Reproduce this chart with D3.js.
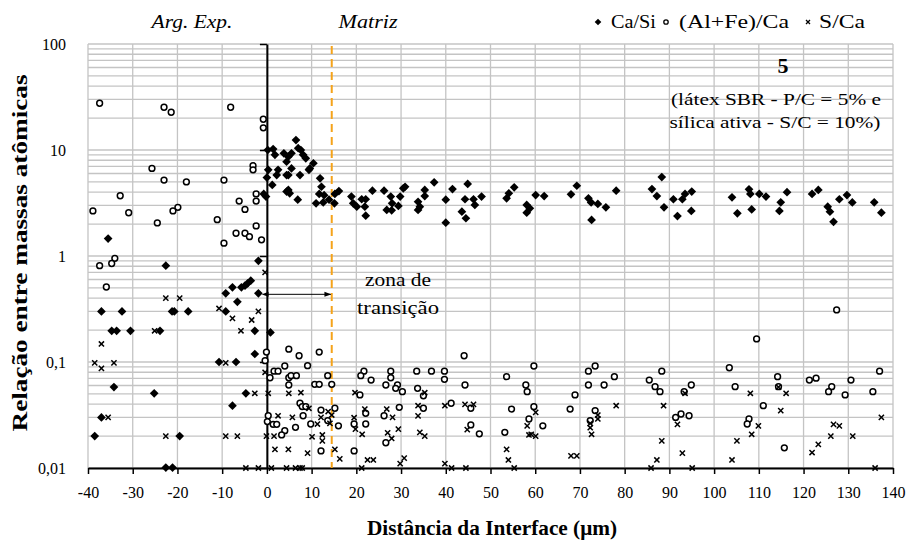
<!DOCTYPE html>
<html>
<head>
<meta charset="utf-8">
<script src="https://cdn.jsdelivr.net/npm/d3@7"></script>
<style>
  body { margin: 0; background: #fff; }
  svg text { font-family: "Liberation Serif", "DejaVu Serif", serif; fill: #000; }
</style>
</head>
<body>
<div id="chart"></div>
<script>
// Ca/Si, (Al+Fe)/Ca and S/Ca atomic ratios vs. distance from the aggregate interface
const xTicks = [-40, -30, -20, -10, 0, 10, 20, 30, 40, 50, 60, 70, 80, 90, 100, 110, 120, 130, 140];
const yTicks = [0.01, 0.1, 1, 10, 100];
const yTickLabels = ["0,01", "0,1", "1", "10", "100"];

const transitionEnd = 14.5;   // end of the interfacial transition zone (µm)
const arrowLevel = 0.435;

const caSi = [
  [-35.5, 1.46], [-22.6, 0.81], [-1.9, 0.90], [-3.6, 0.585], [-4.3, 0.553], [-4.9, 0.525],
  [-5.7, 0.507], [-7.7, 0.507], [-9.2, 0.445], [-1.9, 0.445], [-6.6, 0.37], [-37.0, 0.30],
  [-32.4, 0.30], [-21.2, 0.30], [-20.7, 0.30], [-17.6, 0.30], [-9.2, 0.30], [-34.7, 0.197],
  [-33.6, 0.197], [-30.5, 0.197], [-23.9, 0.197], [-2.7, 0.197], [0.8, 0.19], [-2.7, 0.119],
  [-10.7, 0.1], [-6.9, 0.1], [-34.2, 0.058], [-25.2, 0.0507], [-4.7, 0.0507], [-7.7, 0.0387],
  [-37.0, 0.030], [-38.5, 0.020], [-19.5, 0.020], [-22.6, 0.0101], [-21.1, 0.0101],
  [0.2, 10], [1.4, 10.2], [1.8, 9.0], [3.8, 9.3], [4.4, 7.75], [0.3, 6.5], [2.5, 6.5],
  [2.2, 5.8], [0, 5.5], [4.4, 5.8], [1.2, 4.68], [-0.7, 3.85], [-0.2, 3.64], [4.4, 4.05],
  [6.5, 12.4], [7.0, 10.4], [7.6, 10], [5.5, 9.3], [4.8, 8.65], [8.1, 9.0], [8.7, 8.35],
  [10.4, 7.5], [9.6, 6.7], [5.5, 6.7], [4.8, 5.8], [7.4, 5.8], [9.4, 6.5], [11.9, 5.4],
  [12.2, 4.5], [4.8, 4.2], [5.1, 3.9], [6.9, 3.4], [11.7, 3.85], [12.8, 3.75], [11.0, 3.14],
  [12.6, 3.2], [13.9, 3.4], [15.1, 3.14], [15.2, 3.85], [16.1, 4.1], [18.9, 3.64], [19.3, 3.14],
  [20.1, 2.92], [21.9, 2.92], [22.1, 3.43], [21.2, 3.43], [22.1, 2.4], [23.6, 4.13], [26.2, 4.13],
  [27.7, 3.64], [28.0, 3.14], [26.8, 2.72], [27.9, 2.7], [29.4, 2.97], [29.8, 3.64], [30.5, 4.35],
  [30.9, 4.5], [33.8, 3.25], [33.8, 2.72], [34.2, 2.92], [35.3, 3.68], [35.3, 4.2], [37.4, 4.95],
  [40.0, 3.4], [40.0, 2.06], [41.5, 4.28], [44.3, 3.43], [44.9, 4.78], [43.6, 2.62], [44.5, 2.27],
  [46.2, 3.43], [46.5, 3.03], [48.0, 3.64],
  [53.6, 3.5], [54.1, 3.9], [55.3, 4.45], [58.1, 3.03], [58.1, 2.56], [58.8, 2.82], [60.1, 3.76],
  [62.0, 3.68], [68.0, 3.82], [69.3, 4.6], [71.9, 3.5], [72.5, 3.2], [74.0, 3.1], [72.6, 2.19],
  [75.8, 2.88], [78.1, 4.13], [86.1, 4.28], [87.2, 3.68], [88.3, 5.56], [88.8, 2.88], [90.9, 3.43],
  [91.8, 2.38], [92.9, 3.43], [93.5, 3.85], [95.0, 4.05], [94.9, 2.66],
  [104.0, 3.58], [105.2, 2.53], [107.8, 4.26], [108.1, 3.85], [108.4, 2.75], [110.1, 3.85],
  [111.6, 3.64], [114.6, 2.66], [114.9, 3.21], [116.3, 4.0], [121.9, 3.85], [123.3, 4.2],
  [125.4, 2.92], [125.9, 2.62], [126.7, 2.1], [128.0, 3.43], [129.7, 3.76], [130.9, 3.2],
  [135.8, 3.21], [137.4, 2.56]
];

const alFeCa = [
  [-37.4, 27.6], [-23.0, 25.3], [-21.4, 22.7], [-8.1, 25.3], [-0.8, 19.5], [-0.8, 16.2],
  [-25.7, 6.7], [-3.1, 7.1], [-3.1, 6.5], [-23.0, 5.2], [-18.0, 5.0], [-9.6, 5.2], [-32.8, 3.7],
  [-2.4, 3.85], [-2.4, 3.3], [-6.2, 3.3], [-4.9, 2.75], [-38.9, 2.66], [-30.9, 2.56], [-21.0, 2.66],
  [-19.9, 2.88], [-24.5, 2.05], [-11.1, 2.2], [-2.4, 1.92], [-6.9, 1.64], [-4.9, 1.64], [-3.9, 1.52],
  [-1.2, 1.42], [-9.6, 1.32], [-34.0, 0.95], [-34.7, 0.85], [-37.4, 0.81], [-35.9, 0.51],
  [-0.1, 0.124], [-0.4, 0.103], [4.9, 0.132], [4.0, 0.0917], [1.6, 0.082], [2.5, 0.082],
  [0.7, 0.071], [4.9, 0.071], [4.9, 0.0607], [0.3, 0.0311], [0.1, 0.0274], [1.4, 0.0258],
  [2.2, 0.0258], [4.0, 0.0225], [3.3, 0.0205],
  [7.2, 0.1146], [11.7, 0.124], [9.1, 0.0923], [5.4, 0.0743], [6.6, 0.0743], [10.7, 0.0616],
  [11.7, 0.0616], [13.6, 0.0743], [14.5, 0.0616], [7.4, 0.0408], [7.9, 0.038], [8.7, 0.038],
  [8.1, 0.0311], [12.1, 0.0352], [15.2, 0.0366], [13.6, 0.028], [9.8, 0.026], [6.4, 0.0242],
  [16.0, 0.025], [12.1, 0.0145], [19.5, 0.0145], [21.7, 0.082], [21.0, 0.0743], [23.3, 0.0676],
  [20.8, 0.0489], [27.7, 0.082], [27.7, 0.071], [26.6, 0.0607], [29.2, 0.0607], [28.8, 0.0565],
  [30.3, 0.0525], [22.1, 0.0328], [22.1, 0.026], [19.5, 0.026], [26.2, 0.0311], [26.6, 0.0173],
  [29.6, 0.0374], [33.5, 0.082], [36.8, 0.082], [39.7, 0.082], [39.7, 0.0687], [33.7, 0.0565],
  [35.0, 0.048], [35.0, 0.0366], [41.2, 0.0408], [44.1, 0.1146], [44.3, 0.0607], [45.6, 0.0366],
  [45.6, 0.0255], [47.5, 0.021],
  [59.7, 0.0917], [53.6, 0.0727], [57.9, 0.0607], [58.2, 0.0525], [54.7, 0.036], [59.7, 0.0379],
  [58.6, 0.029], [61.7, 0.025], [53.2, 0.0217], [71.9, 0.082], [73.4, 0.0917], [71.9, 0.0607],
  [75.4, 0.0607], [77.7, 0.0727], [68.9, 0.0489], [67.8, 0.036], [73.4, 0.0348], [72.3, 0.028],
  [85.5, 0.0676], [86.8, 0.0585], [87.9, 0.0525], [88.3, 0.082], [93.3, 0.0525], [94.9, 0.0607],
  [91.4, 0.030], [92.6, 0.0323], [94.4, 0.0311],
  [109.5, 0.165], [127.4, 0.31], [103.4, 0.0883], [104.7, 0.0585], [114.2, 0.0727], [114.4, 0.0585],
  [111.0, 0.0387], [107.8, 0.029], [107.4, 0.026], [115.7, 0.0155], [121.3, 0.0676], [122.8, 0.0703],
  [126.3, 0.0585], [125.6, 0.0525], [129.3, 0.0489], [130.6, 0.0676], [135.5, 0.0525], [137.0, 0.082]
];

const sCa = [
  [-0.4, 0.70], [-22.6, 0.40], [-19.5, 0.40], [-10.7, 0.32], [-7.7, 0.258], [-1.9, 0.30],
  [-3.4, 0.249], [-5.8, 0.197], [-25.1, 0.197], [-37.0, 0.148], [-38.5, 0.098], [-37.0, 0.087],
  [-34.2, 0.098], [-9.2, 0.098], [-2.7, 0.0507], [0.3, 0.0507], [4.9, 0.0507], [-35.5, 0.030],
  [2.5, 0.0311], [-0.1, 0.020], [1.6, 0.020], [-22.6, 0.020], [-9.2, 0.020], [-6.6, 0.020],
  [1.8, 0.015], [4.8, 0.015], [-4.7, 0.01], [-1.9, 0.01], [1.0, 0.01], [4.4, 0.01], [-0.4, 0.08],
  [7.6, 0.0513], [9.4, 0.0366], [5.7, 0.030], [10.1, 0.0197], [12.4, 0.0205], [12.4, 0.018],
  [12.1, 0.030], [11.3, 0.026], [13.7, 0.0341], [14.5, 0.0316], [14.1, 0.0264], [9.1, 0.0138],
  [15.2, 0.015], [16.3, 0.0122], [6.4, 0.01], [7.4, 0.01], [7.9, 0.01], [19.7, 0.0513],
  [19.5, 0.0298], [19.8, 0.0233], [21.3, 0.0208], [21.9, 0.036], [21.2, 0.01], [22.5, 0.0119],
  [23.8, 0.0119], [26.8, 0.036], [28.1, 0.030], [27.0, 0.0215], [27.9, 0.019], [29.4, 0.0233],
  [29.8, 0.011], [30.7, 0.0124], [33.8, 0.0387], [33.8, 0.031], [34.2, 0.0217], [35.3, 0.020],
  [35.3, 0.0513], [39.8, 0.0387], [39.8, 0.011], [41.3, 0.01], [44.5, 0.01], [44.3, 0.0398],
  [46.2, 0.0398], [44.8, 0.023],
  [53.6, 0.015], [54.0, 0.0119], [55.3, 0.01], [58.2, 0.025], [60.1, 0.0335], [58.6, 0.0205],
  [59.1, 0.0208], [60.1, 0.020], [68.0, 0.013], [69.3, 0.013], [72.3, 0.0264], [72.3, 0.024],
  [72.6, 0.0208], [74.0, 0.0316], [74.0, 0.029], [78.1, 0.0387], [88.7, 0.0387], [88.3, 0.018],
  [87.2, 0.0119], [85.9, 0.01], [91.8, 0.0258], [92.9, 0.0138], [93.5, 0.0507], [95.1, 0.01],
  [108.1, 0.0507], [116.1, 0.0507], [114.9, 0.0348], [109.9, 0.025], [108.4, 0.0208],
  [105.1, 0.018], [104.0, 0.0119], [121.9, 0.014], [123.3, 0.0167], [126.1, 0.020],
  [126.7, 0.0258], [128.0, 0.025], [131.0, 0.020], [137.4, 0.030], [136.0, 0.01], [114.4, 0.058]
];

const W = 912, H = 548;
const plot = { l: 88, r: 893, t: 44, b: 468 };
const gridColor = "#c4c4c4";

const x = d3.scaleLinear().domain([-40, 140]).range([plot.l, plot.r]);
const y = d3.scaleLog().domain([0.01, 100]).range([plot.b, plot.t]);

const svg = d3.select("#chart").append("svg")
  .attr("width", W)
  .attr("height", H)
  .attr("viewBox", [0, 0, W, H]);

// stretched text helper: the labels are set to a fixed width
function label(g, px, py, str, size, width, extra = {}) {
  const t = g.append("text")
    .attr("x", px).attr("y", py)
    .attr("text-anchor", extra.anchor || "middle")
    .attr("font-size", size)
    .text(str);
  if (width) t.attr("textLength", width).attr("lengthAdjust", "spacingAndGlyphs");
  if (extra.italic) t.attr("font-style", "italic");
  if (extra.bold) t.attr("font-weight", "bold");
  return t;
}

// minor log gridlines: 1..9 in every decade, plus the top line
const yGrid = [];
for (let e = -2; e < 2; e++) {
  for (let k = 1; k <= 9; k++) yGrid.push(k * Math.pow(10, e));
}
yGrid.push(100);

const gGrid = svg.append("g");
gGrid.selectAll("line.h").data(yGrid).join("line")
  .attr("class", "h")
  .attr("x1", plot.l).attr("x2", plot.r)
  .attr("y1", d => y(d)).attr("y2", d => y(d))
  .attr("stroke", gridColor).attr("stroke-width", 1.3);

gGrid.selectAll("line.v").data(xTicks).join("line")
  .attr("class", "v")
  .attr("x1", d => x(d)).attr("x2", d => x(d))
  .attr("y1", plot.t).attr("y2", plot.b)
  .attr("stroke", gridColor).attr("stroke-width", 1.3);

// x axis along the 0,01 line
const xAxis = d3.axisBottom(x).tickValues(xTicks).tickSize(6).tickSizeOuter(0).tickFormat(d3.format("d"));
const gx = svg.append("g").attr("transform", `translate(0,${plot.b})`).call(xAxis);
gx.attr("font-family", null);
gx.select(".domain").attr("stroke", "#000").attr("stroke-width", 2);
gx.selectAll(".tick line").attr("stroke", "#000").attr("stroke-width", 1.5);
gx.selectAll(".tick text")
  .attr("y", 19)
  .attr("font-size", 16)
  .text(d => d < 0 ? "-" + Math.abs(d) : d);

// y axis crosses at x = 0, labels sit at the left edge
const yAxis = d3.axisLeft(y).tickValues(yTicks).tickSize(7).tickSizeOuter(0).tickFormat("");
const gy = svg.append("g").attr("transform", `translate(${x(0)},0)`).call(yAxis);
gy.select(".domain").attr("stroke", "#000").attr("stroke-width", 2);
gy.selectAll(".tick line").attr("stroke", "#000").attr("stroke-width", 1.5);

svg.append("g").selectAll("text").data(yTicks).join("text")
  .attr("x", 66)
  .attr("y", d => y(d))
  .attr("dy", "0.35em")
  .attr("text-anchor", "end")
  .attr("font-size", 16)
  .text((d, i) => yTickLabels[i]);

// boundary of the transition zone
svg.append("line")
  .attr("x1", x(transitionEnd)).attr("x2", x(transitionEnd))
  .attr("y1", plot.t + 2).attr("y2", plot.b)
  .attr("stroke", "#f5a31a").attr("stroke-width", 2)
  .attr("stroke-dasharray", "8,5");

// double-headed arrow across the transition zone
const defs = svg.append("defs");
["start", "end"].forEach(k => {
  defs.append("marker")
    .attr("id", "arrow-" + k)
    .attr("viewBox", "0 0 10 10")
    .attr("refX", k === "end" ? 9 : 1).attr("refY", 5)
    .attr("markerWidth", 7).attr("markerHeight", 7)
    .attr("markerUnits", "userSpaceOnUse")
    .attr("orient", "auto-start-reverse")
    .append("path")
    .attr("d", "M0,1.5L10,5L0,8.5Z")
    .attr("fill", "#000");
});
svg.append("line")
  .attr("x1", x(0) + 1).attr("x2", x(transitionEnd) - 1)
  .attr("y1", y(arrowLevel)).attr("y2", y(arrowLevel))
  .attr("stroke", "#000").attr("stroke-width", 1)
  .attr("marker-start", "url(#arrow-start)")
  .attr("marker-end", "url(#arrow-end)");

label(svg, 398, 286, "zona de", 18, 66);
label(svg, 398, 314, "transição", 18, 82);

// markers
const diamond = d3.symbol().type(d3.symbolSquare).size(38);
const crossPath = "M-2.6,-2.6L2.6,2.6M-2.6,2.6L2.6,-2.6";

const gPts = svg.append("g");
gPts.selectAll("path.casi").data(caSi).join("path")
  .attr("class", "casi")
  .attr("d", diamond)
  .attr("transform", d => `translate(${x(d[0])},${y(d[1])}) rotate(45)`)
  .attr("fill", "#000");

gPts.selectAll("circle.alfe").data(alFeCa).join("circle")
  .attr("class", "alfe")
  .attr("cx", d => x(d[0])).attr("cy", d => y(d[1]))
  .attr("r", 2.9)
  .attr("fill", "#fff").attr("stroke", "#000").attr("stroke-width", 1.5);

gPts.selectAll("path.sca").data(sCa).join("path")
  .attr("class", "sca")
  .attr("d", crossPath)
  .attr("transform", d => `translate(${x(d[0])},${y(d[1])})`)
  .attr("fill", "none").attr("stroke", "#000").attr("stroke-width", 1.5);

// region labels above the plot
label(svg, 192, 28, "Arg. Exp.", 18, 81, { italic: true });
label(svg, 368, 28, "Matriz", 18, 59, { italic: true });

// legend
const legend = svg.append("g").attr("transform", "translate(0,22)");
legend.append("path").attr("d", d3.symbol().type(d3.symbolSquare).size(22))
  .attr("transform", "translate(598,0) rotate(45)").attr("fill", "#000");
label(legend, 611, 6, "Ca/Si", 19, 45, { anchor: "start" });
legend.append("circle").attr("cx", 666).attr("cy", 0).attr("r", 2.2)
  .attr("fill", "#fff").attr("stroke", "#000").attr("stroke-width", 1.3);
label(legend, 679, 6, "(Al+Fe)/Ca", 19, 110, { anchor: "start" });
legend.append("path").attr("d", "M-2,-2L2,2M-2,2L2,-2")
  .attr("transform", "translate(808,0)").attr("stroke", "#000").attr("stroke-width", 1.3);
label(legend, 819, 6, "S/Ca", 19, 46, { anchor: "start" });

// mix description
label(svg, 783, 73, "5", 22, null, { bold: true });
label(svg, 776, 105, "(látex SBR - P/C = 5% e", 16, 210);
label(svg, 775, 128, "sílica ativa - S/C = 10%)", 16, 211);

// axis titles
label(svg, 492, 535, "Distância da Interface (μm)", 21, 250, { bold: true });
label(svg, 0, 0, "Relação entre massas atômicas", 22, 357, { bold: true })
  .attr("transform", "translate(27,253) rotate(-90)");
</script>
</body>
</html>
